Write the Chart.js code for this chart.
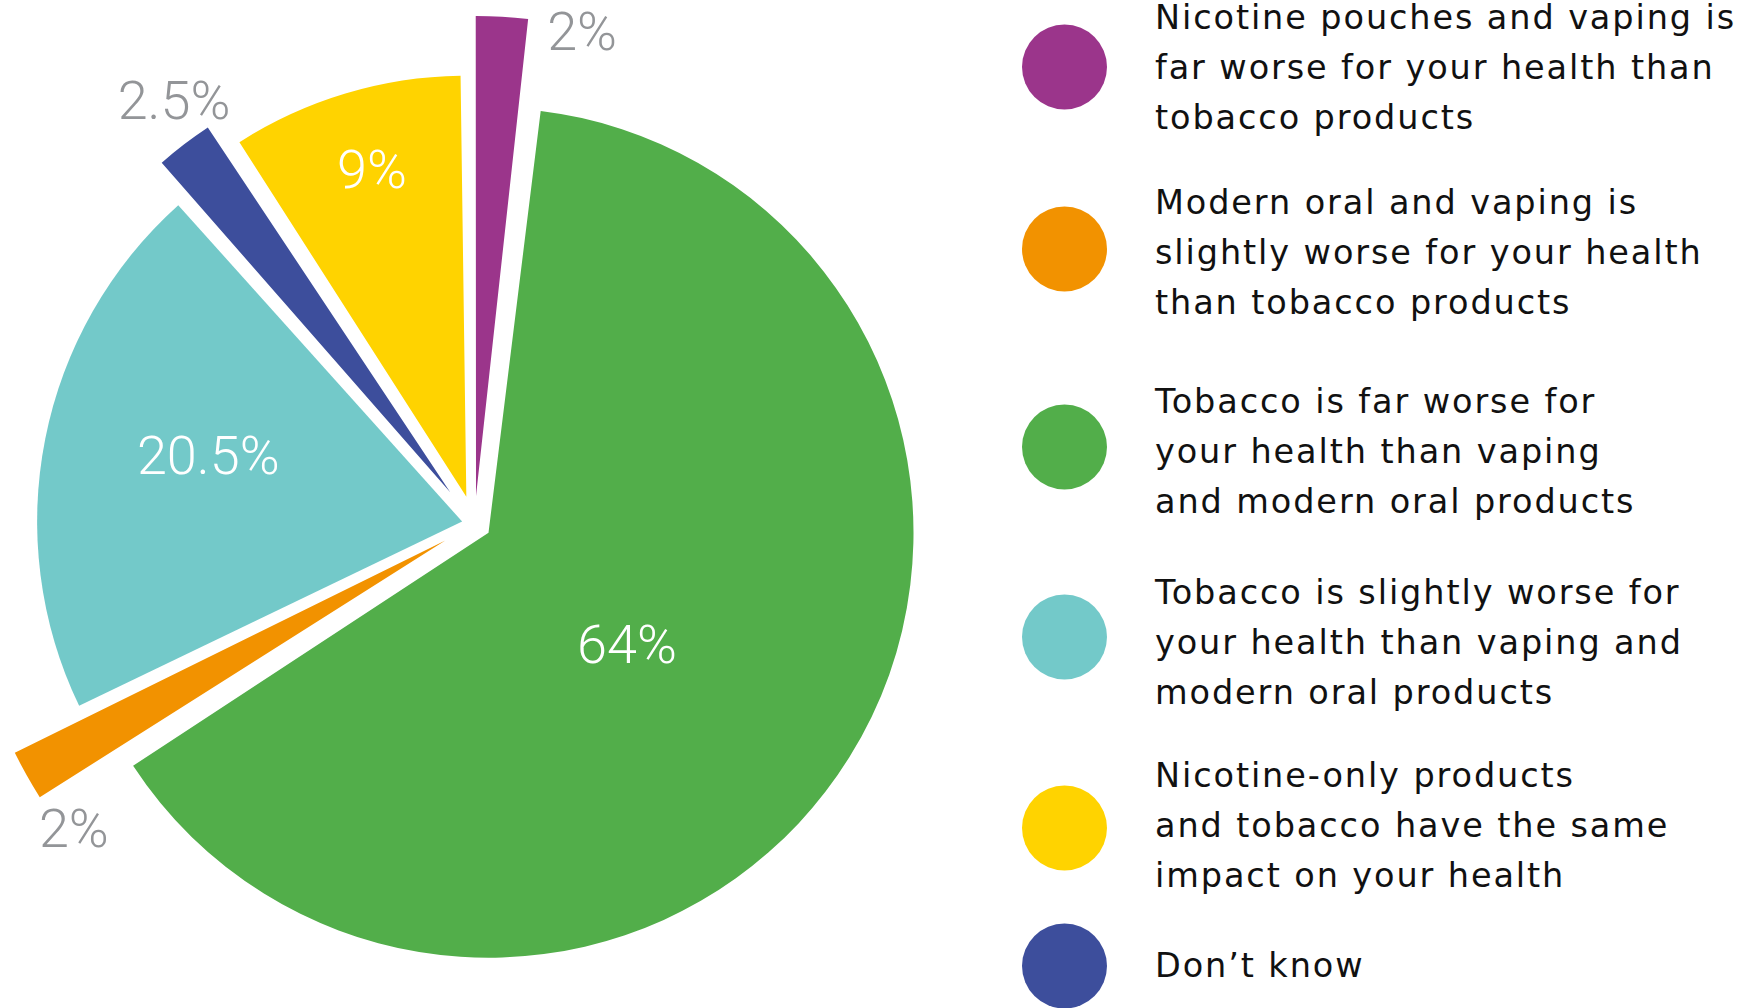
<!DOCTYPE html>
<html>
<head>
<meta charset="utf-8">
<title>Relative harm of nicotine and tobacco products</title>
<script src="https://cdn.jsdelivr.net/npm/chart.js@4.4.1/dist/chart.umd.min.js"></script>
<style>
  html, body { margin: 0; padding: 0; background: #fff; width: 1748px; height: 1008px; overflow: hidden; }
  #wrap { position: relative; width: 1748px; height: 1008px; }
  #pie { position: absolute; left: 0; top: 0; }
  .dot { position: absolute; left: 1022px; width: 85px; height: 85px; border-radius: 50%; transform: translateY(-50%); }
  .txt { position: absolute; left: 1155px; transform: translateY(-50%); font-family: "DejaVu Sans", Inter, sans-serif;
         font-size: 33.5px; letter-spacing: 1.9px; line-height: 50px; color: #111; white-space: nowrap; }
</style>
</head>
<body>
<div id="wrap">
  <canvas id="pie" width="1000" height="1008"></canvas>
  <div id="legend"></div>
</div>
<script>
// Answer categories, in the order the wedges run clockwise from 12 o'clock
const categories = [
  ['Nicotine pouches and vaping is', 'far worse for your health than', 'tobacco products'],
  ['Tobacco is far worse for', 'your health than vaping', 'and modern oral products'],
  ['Modern oral and vaping is', 'slightly worse for your health', 'than tobacco products'],
  ['Tobacco is slightly worse for', 'your health than vaping and', 'modern oral products'],
  ['Don’t know'],
  ['Nicotine-only products', 'and tobacco have the same', 'impact on your health']
];
// Share of respondents, %
const shares = [2, 64, 2, 20.5, 2.5, 9];
const valueLabels = shares.map(v => v + '%');
// Order in which the categories are listed in the key
const legendOrder = [0, 2, 1, 3, 5, 4];

// Styling
const sliceColors = ['#9B358B', '#52AE4A', '#F29200', '#73C9C9', '#3D4E9C', '#FFD300'];
const sliceOffset = [28, 16.5, 33.5, 12.6, 40, 28.4];      // how far each wedge is pulled out, px
const sliceRadius = [480, 425, 480, 425, 438, 421];        // outer radius of each wedge, px
const labelPlace = [[505, 9.2], [194, 6.3], [503, -7.9], [275, 3.3], [520, 2.1], [370, 0.6]]; // [distance, angle shift°]
const labelInside = [false, true, false, true, false, true];
const dotY = [66.7, 249.3, 446.7, 636.7, 828, 965.7];
const textY = [68.4, 253.4, 451.7, 642.7, 825.7, 965.7];

// Per-wedge radius and value labels
const wedgeShape = {
  id: 'wedgeShape',
  beforeDatasetsDraw(chart) {
    chart.getDatasetMeta(0).data.forEach((arc, i) => {
      const fix = 1 - Math.sin(Math.min(Math.PI, arc.circumference));
      arc.outerRadius = sliceRadius[i] - sliceOffset[i] * fix;
    });
  },
  afterDatasetsDraw(chart) {
    const ctx = chart.ctx;
    const size = 54;
    ctx.save();
    ctx.font = '300 ' + size + 'px Roboto, "Liberation Sans", sans-serif';
    ctx.textAlign = 'center';
    ctx.textBaseline = 'alphabetic';
    chart.getDatasetMeta(0).data.forEach((arc, i) => {
      const [dist, shift] = labelPlace[i];
      const a = (arc.startAngle + arc.endAngle) / 2 + shift * Math.PI / 180;
      const x = arc.x + Math.cos(a) * dist;
      const y = arc.y + Math.sin(a) * dist;
      ctx.fillStyle = labelInside[i] ? '#ffffff' : '#939598';
      ctx.fillText(valueLabels[i], x, y + size * 0.355);
    });
    ctx.restore();
  }
};

new Chart(document.getElementById('pie'), {
  type: 'pie',
  data: {
    labels: categories.map(l => l.join(' ')),
    datasets: [{
      data: shares,
      backgroundColor: sliceColors,
      borderWidth: 0,
      offset: sliceOffset.map(t => t * 4),
      radius: 425
    }]
  },
  options: {
    responsive: false,
    devicePixelRatio: 1,
    animation: false,
    events: [],
    rotation: -0.5,
    layout: { padding: { left: 0, right: 51, top: 40, bottom: 0 } },
    plugins: { legend: { display: false }, tooltip: { enabled: false } }
  },
  plugins: [wedgeShape]
});

// Key: colour dot plus wrapped description
const legend = document.getElementById('legend');
legendOrder.forEach((k, row) => {
  const dot = document.createElement('div');
  dot.className = 'dot';
  dot.style.top = dotY[row] + 'px';
  dot.style.background = sliceColors[k];
  legend.appendChild(dot);
  const txt = document.createElement('div');
  txt.className = 'txt';
  txt.style.top = textY[row] + 'px';
  categories[k].forEach((line, j) => {
    if (j) txt.appendChild(document.createElement('br'));
    txt.appendChild(document.createTextNode(line));
  });
  legend.appendChild(txt);
});
</script>
</body>
</html>
